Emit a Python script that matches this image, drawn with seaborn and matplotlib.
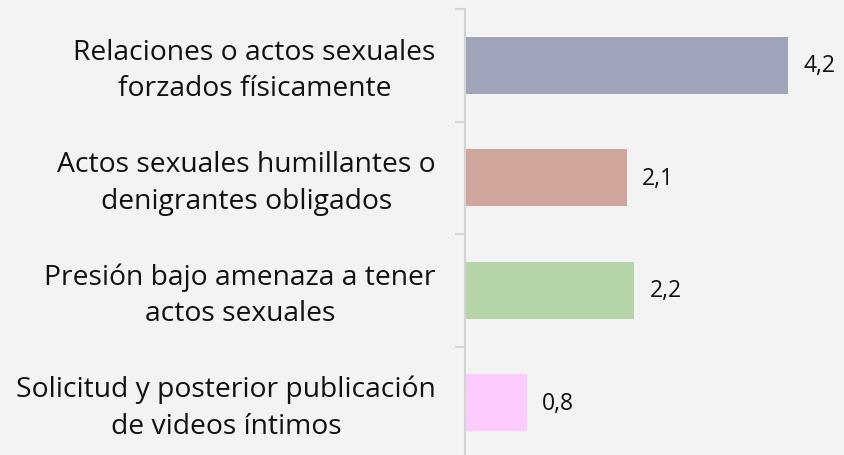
import matplotlib
matplotlib.use("Agg")
import matplotlib.pyplot as plt
import matplotlib.transforms as mtransforms
import seaborn as sns
import pandas as pd

# Chart data
categories = [
    "Relaciones o actos sexuales\nforzados físicamente",
    "Actos sexuales humillantes o\ndenigrantes obligados",
    "Presión bajo amenaza a tener\nactos sexuales",
    "Solicitud y posterior publicación\nde videos íntimos",
]
values = [4.2, 2.1, 2.2, 0.8]
value_labels = ["4,2", "2,1", "2,2", "0,8"]
bar_colors = ["#9FA4BB", "#D0A69C", "#B5D5A7", "#FDCBFD"]

df = pd.DataFrame({"categoria": categories, "valor": values})

sns.set_style("white")
plt.rcParams["font.family"] = ["Open Sans", "DejaVu Sans"]

bg = "#F3F3F3"
fig = plt.figure(figsize=(8.45, 4.56), dpi=100, facecolor=bg)
ax = fig.add_axes([465 / 845, -4 / 456, 377 / 845, 450 / 456])
ax.set_facecolor(bg)

sns.barplot(data=df, x="valor", y="categoria", hue="categoria",
            palette=bar_colors, orient="h", width=0.51,
            legend=False, ax=ax, saturation=1, linewidth=0)

for cont, lab in zip(ax.containers, value_labels):
    ax.bar_label(cont, labels=[lab], padding=11, fontsize=16.5, color="#111111")

ax.set_xlim(0, 4.9)
ax.set_ylim(3.5, -0.5)
ax.set_xlabel("")
ax.set_ylabel("")
ax.set_xticks([])

for side in ["top", "right", "bottom"]:
    ax.spines[side].set_visible(False)
ax.spines["left"].set_color("#D4D4D4")
ax.spines["left"].set_linewidth(1.5)

# category boundary ticks
ax.set_yticks([-0.5, 0.5, 1.5, 2.5, 3.5], minor=True)
ax.tick_params(axis="y", which="minor", length=7, width=1.5, color="#D4D4D4", left=True)
ax.tick_params(axis="y", which="major", length=0, pad=21, labelsize=20.3, labelcolor="#111111")
shift = mtransforms.ScaledTranslation(0, 3 / 100, fig.dpi_scale_trans)
for t in ax.get_yticklabels():
    t.set_multialignment("center")
    t.set_linespacing(1.4)
    t.set_transform(t.get_transform() + shift)

fig.savefig("out.png", dpi=100, facecolor=bg)
